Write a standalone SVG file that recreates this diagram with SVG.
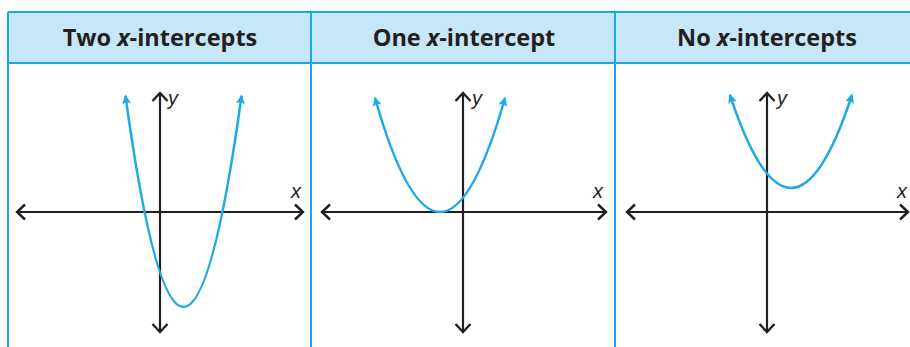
<svg xmlns="http://www.w3.org/2000/svg" width="910" height="347" viewBox="0 0 910 347">
  <style>
    .hdr { font-family: "Open Sans", "Liberation Sans", sans-serif; font-weight: bold; font-size: 23.5px; fill: #231f20; text-anchor: middle; }
    .it { font-style: italic; }
    .lbl { font-family: "Liberation Sans", "Open Sans", sans-serif; font-style: italic; font-size: 20px; fill: #231f20; }
    .axis { stroke: #231f20; stroke-width: 2.2; fill: none; marker-start: url(#chev); marker-end: url(#chev); }
    .curve { stroke: #1faae4; stroke-width: 2.5; fill: none; marker-start: url(#tip); marker-end: url(#tip); }
    .grid { stroke: #1aa6e2; stroke-width: 2; fill: none; }
  </style>
  <defs>
    <marker id="chev" markerUnits="userSpaceOnUse" markerWidth="20" markerHeight="20" viewBox="-10 -10 20 20" refX="0" refY="0" orient="auto-start-reverse" overflow="visible">
      <path d="M -8 -7.5 L 0 0 L -8 7.5" fill="none" stroke="#231f20" stroke-width="2.4"/>
    </marker>
    <marker id="tip" markerUnits="userSpaceOnUse" markerWidth="20" markerHeight="20" viewBox="-10 -10 20 20" refX="0" refY="0" orient="auto-start-reverse" overflow="visible">
      <path d="M 1.5 0 L -8 -4.5 L -6 0 L -8 4.5 Z" fill="#1faae4"/>
    </marker>
  </defs>

  <g id="table">
    <rect x="8" y="12" width="910" height="51" fill="#c6e7f8"/>
    <path class="grid" d="M 8 12 H 912 M 8 63 H 912 M 8 12 V 347 M 311 12 V 347 M 615 12 V 347"/>
  </g>

  <g id="header-two">
    <text class="hdr" x="160" y="46">Two <tspan class="it">x</tspan>-intercepts</text>
  </g>
  <g id="header-one">
    <text class="hdr" x="464" y="46">One <tspan class="it">x</tspan>-intercept</text>
  </g>
  <g id="header-none">
    <text class="hdr" x="767" y="46">No <tspan class="it">x</tspan>-intercepts</text>
  </g>

  <g id="connectors">
    <path class="axis" d="M 17 212 H 303"/>
    <path class="axis" d="M 160 93 V 332"/>
    <path class="axis" d="M 322 212 H 606"/>
    <path class="axis" d="M 463 93 V 332"/>
    <path class="axis" d="M 627 212 H 908"/>
    <path class="axis" d="M 767 93 V 332"/>
  </g>

  <g id="graph-two">
    <path class="curve" d="M 125.5 96 Q 183.5 518 241.5 96"/>
    <text class="lbl" x="168" y="105">y</text>
    <text class="lbl" x="291" y="198">x</text>
  </g>
  <g id="graph-one">
    <path class="curve" d="M 375 98 Q 440 326 505 98"/>
    <text class="lbl" x="472" y="105">y</text>
    <text class="lbl" x="593" y="198">x</text>
  </g>
  <g id="graph-none">
    <path class="curve" d="M 730 95 Q 791 281 852 95"/>
    <text class="lbl" x="777" y="105">y</text>
    <text class="lbl" x="897" y="198">x</text>
  </g>
</svg>
